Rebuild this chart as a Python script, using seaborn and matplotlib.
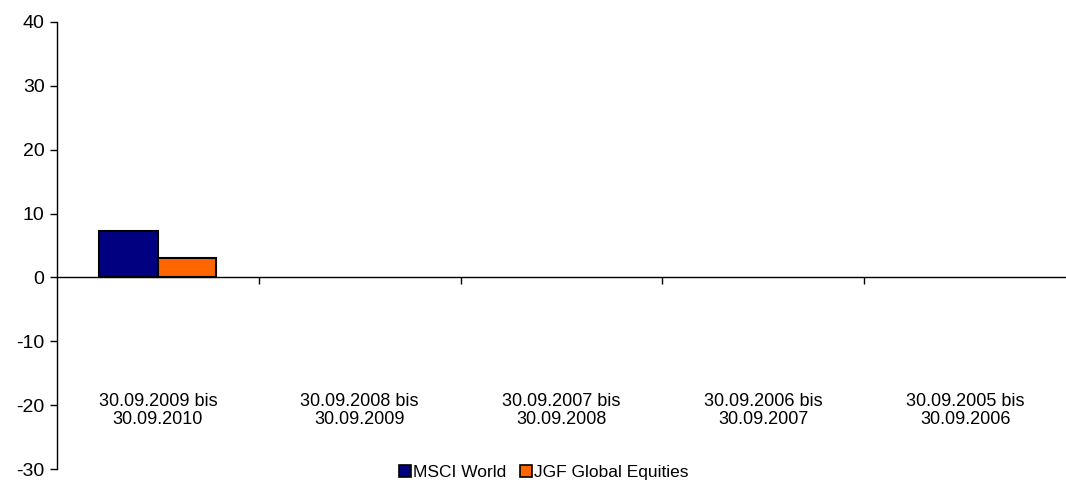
import numpy as np
import pandas as pd
import matplotlib
matplotlib.use("Agg")
import matplotlib.pyplot as plt
import seaborn as sns

# data
periods = ["30.09.2009 bis\n30.09.2010", "30.09.2008 bis\n30.09.2009",
           "30.09.2007 bis\n30.09.2008", "30.09.2006 bis\n30.09.2007",
           "30.09.2005 bis\n30.09.2006"]
msci_world = [7.2, np.nan, np.nan, np.nan, np.nan]
jgf_global = [3.1, np.nan, np.nan, np.nan, np.nan]
series_names = ["MSCI World", "JGF Global Equities"]
colors = ["#000080", "#FF6600"]
y_ticks = [-30, -20, -10, 0, 10, 20, 30, 40]

df = pd.DataFrame({
    "period": periods * 2,
    "value": msci_world + jgf_global,
    "series": [series_names[0]] * len(periods) + [series_names[1]] * len(periods),
})

sns.set_style("white")
plt.rcParams["font.family"] = ["Liberation Sans", "DejaVu Sans"]
plt.rcParams["axes.unicode_minus"] = False
plt.rcParams["text.color"] = "black"
plt.rcParams["ytick.color"] = "black"
plt.rcParams["xtick.color"] = "black"

fig = plt.figure(figsize=(10.66, 4.83), dpi=100)
ax = fig.add_axes([57 / 1066, 14 / 483, 1 - 57 / 1066, 447 / 483])

sns.barplot(data=df, x="period", y="value", hue="series", order=periods,
            hue_order=series_names, palette=colors, saturation=1, width=0.58,
            edgecolor="black", linewidth=1.5, ax=ax, legend=True)

ax.set_ylim(-30, 40)
ax.set_xlim(-0.5, len(periods) - 0.5)
ax.set_yticks(y_ticks)
ax.tick_params(axis="y", labelsize=14, labelcolor="black", length=5, width=1,
               direction="out", left=True, color="black", pad=4)
ax.set_xlabel("")
ax.set_ylabel("")

# x axis crosses at zero, ticks between categories
ax.spines["bottom"].set_position(("data", 0))
for s in ["top", "right"]:
    ax.spines[s].set_visible(False)
for s in ["left", "bottom"]:
    ax.spines[s].set_color("black")
    ax.spines[s].set_linewidth(1)
ax.set_xticks(np.arange(0.5, len(periods) - 0.5, 1.0))
ax.set_xticklabels([])
ax.tick_params(axis="x", length=5, width=1, direction="out", bottom=True, color="black")

for i, lab in enumerate(periods):
    ax.text(i, -20.8, lab, ha="center", va="center", fontsize=13,
            linespacing=1.1, color="black")

ax.get_legend().remove()
handles = [plt.Rectangle((0, 0), 1, 1, facecolor=c, edgecolor="black", linewidth=1.2) for c in colors]
fig.legend(handles, series_names, loc="center", bbox_to_anchor=(0.51, 0.022), ncol=2,
           frameon=False, fontsize=12.5, handlelength=0.7, handleheight=0.7,
           handletextpad=0.1, columnspacing=0.8, borderaxespad=0)

fig.savefig("out.png", dpi=100)
